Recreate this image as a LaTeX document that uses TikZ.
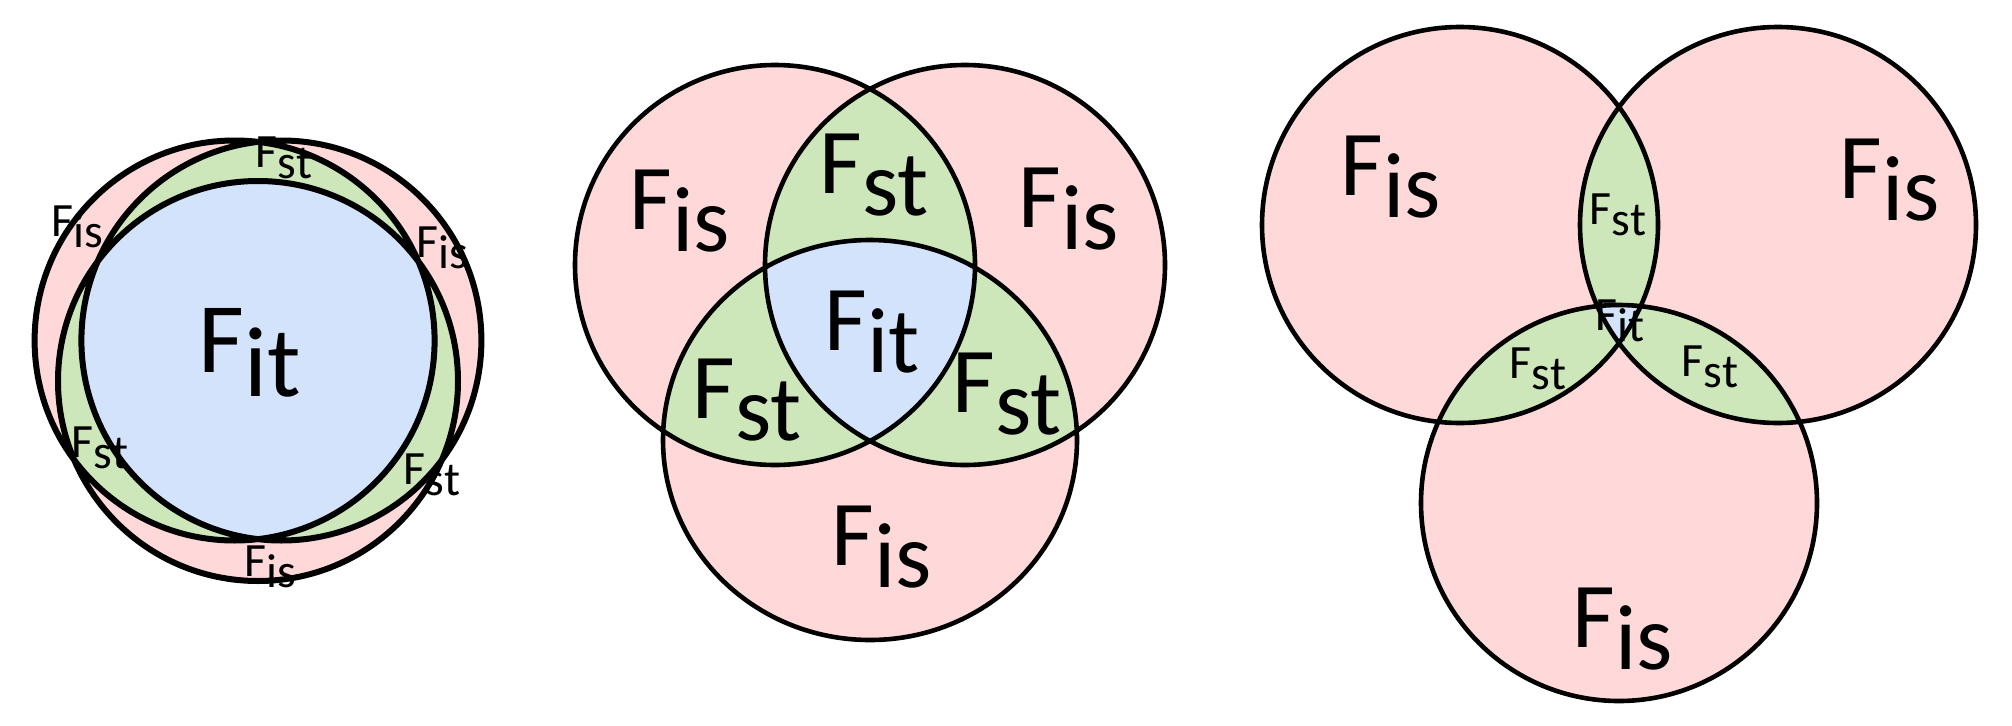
\documentclass[tikz,border=0pt]{standalone}
\usepackage{fontspec}
\setmainfont{Carlito}
\usepackage{tikz}
\definecolor{vennRed}{HTML}{FFD9D9}
\definecolor{vennGreen}{HTML}{CDE6BA}
\definecolor{vennBlue}{HTML}{D3E3FB}
\newcommand{\Fsub}[1]{F\raisebox{-.24em}{#1}}
\tikzset{
  venn/is/.style={fill=vennRed},
  venn/st/.style={fill=vennGreen},
  venn/it/.style={fill=vennBlue},
  venn/line/.style={draw=black, line width=4.6*0.7113pt},
  venn/thickline/.style={draw=black, line width=6*0.7113pt},
  venn/big/.style={inner sep=0pt, font=\fontsize{66pt}{70pt}\selectfont},
  venn/huge/.style={inner sep=0pt, font=\fontsize{71pt}{75pt}\selectfont},
  venn/small/.style={inner sep=0pt, font=\fontsize{34pt}{38pt}\selectfont}
}

\begin{document}
\begin{tikzpicture}[x=0.25mm, y=-0.25mm]
  \useasboundingbox (0,0) rectangle (2012,725);

  % nearly coincident
  \coordinate (la) at (234.6,340.5);
  \coordinate (lb) at (281.4,340.5);
  \coordinate (lc) at (258,381);
  \fill[venn/is] (la) circle (200) (lb) circle (200) (lc) circle (200);
  \begin{scope}
    \clip (la) circle (200);
    \fill[venn/st] (lb) circle (200) (lc) circle (200);
  \end{scope}
  \begin{scope}
    \clip (lb) circle (200);
    \fill[venn/st] (lc) circle (200);
  \end{scope}
  \begin{scope}
    \clip (la) circle (200);
    \clip (lb) circle (200);
    \fill[venn/it] (lc) circle (200);
  \end{scope}
  \draw[venn/thickline] (la) circle (200) (lb) circle (200) (lc) circle (200);

  \node[venn/huge] (lit) at (250,353) {\Fsub{it}};
  \node[venn/small] (lisa) at (77,227) {\Fsub{is}};
  \node[venn/small] (lisb) at (442,248) {\Fsub{is}};
  \node[venn/small] (lisc) at (270,567) {\Fsub{is}};
  \node[venn/small] (lsta) at (284,158) {\Fsub{st}};
  \node[venn/small] (lstb) at (100,448) {\Fsub{st}};
  \node[venn/small] (lstc) at (432,475) {\Fsub{st}};

  % classic overlap
  \coordinate (ma) at (775,265);
  \coordinate (mb) at (965,265);
  \coordinate (mc) at (870,440);
  \fill[venn/is] (ma) circle (200) (mb) circle (200) (mc) ellipse (207 and 200);
  \begin{scope}
    \clip (ma) circle (200);
    \fill[venn/st] (mb) circle (200) (mc) ellipse (207 and 200);
  \end{scope}
  \begin{scope}
    \clip (mb) circle (200);
    \fill[venn/st] (mc) ellipse (207 and 200);
  \end{scope}
  \begin{scope}
    \clip (ma) circle (200);
    \clip (mb) circle (200);
    \fill[venn/it] (mc) ellipse (207 and 200);
  \end{scope}
  \draw[venn/line] (ma) circle (200) (mb) circle (200) (mc) ellipse (207 and 200);

  \node[venn/big] (mit) at (872,332) {\Fsub{it}};
  \node[venn/big] (misa) at (680,211) {\Fsub{is}};
  \node[venn/big] (misb) at (1069,209) {\Fsub{is}};
  \node[venn/big] (misc) at (882,547) {\Fsub{is}};
  \node[venn/big] (msta) at (874,175) {\Fsub{st}};
  \node[venn/big] (mstb) at (747,400) {\Fsub{st}};
  \node[venn/big] (mstc) at (1007,394) {\Fsub{st}};

  % spread apart
  \coordinate (ra) at (1460,225);
  \coordinate (rb) at (1778,225);
  \coordinate (rc) at (1619,503);
  \fill[venn/is] (ra) circle (198) (rb) circle (198) (rc) circle (198);
  \begin{scope}
    \clip (ra) circle (198);
    \fill[venn/st] (rb) circle (198) (rc) circle (198);
  \end{scope}
  \begin{scope}
    \clip (rb) circle (198);
    \fill[venn/st] (rc) circle (198);
  \end{scope}
  \begin{scope}
    \clip (ra) circle (198);
    \clip (rb) circle (198);
    \fill[venn/it] (rc) circle (198);
  \end{scope}
  \draw[venn/line] (ra) circle (198) (rb) circle (198) (rc) circle (198);

  \node[venn/big] (risa) at (1391,177) {\Fsub{is}};
  \node[venn/big] (risb) at (1890,180) {\Fsub{is}};
  \node[venn/big] (risc) at (1623,629) {\Fsub{is}};
  \node[venn/small] (rsta) at (1618,215) {\Fsub{st}};
  \node[venn/small] (rstb) at (1538,369) {\Fsub{st}};
  \node[venn/small] (rstc) at (1710,367) {\Fsub{st}};
  \node[venn/small] (rit) at (1620,321) {\Fsub{it}};
\end{tikzpicture}
\end{document}
